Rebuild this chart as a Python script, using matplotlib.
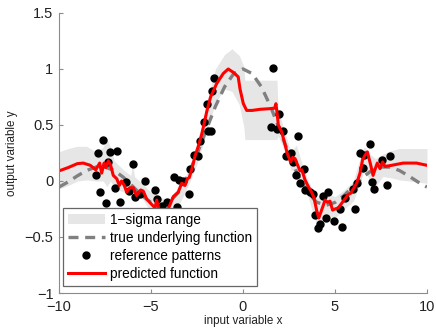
import matplotlib
matplotlib.use("Agg")
import matplotlib.pyplot as plt

plt.rcParams["font.family"] = ["Liberation Sans", "DejaVu Sans"]

# true underlying function
true_x = [-10, -9.5, -9, -8.5, -8, -7.5, -7, -6.5, -6, -5.5, -5, -4.5, -4, -3.5, -3,
          -2.5, -2, -1.5, -1, -0.5, 0, 0.5, 1, 1.5, 2, 2.5, 3, 3.5, 4, 4.5, 5, 5.5,
          6, 6.5, 7, 7.5, 8, 8.5, 9, 9.5, 10]
true_y = [-0.054, -0.008, 0.046, 0.094, 0.124, 0.125, 0.094, 0.033, -0.047, -0.128,
          -0.192, -0.217, -0.189, -0.100, 0.047, 0.239, 0.455, 0.665, 0.841, 0.959,
          1.0, 0.959, 0.841, 0.665, 0.455, 0.239, 0.047, -0.100, -0.189, -0.217,
          -0.192, -0.128, -0.047, 0.033, 0.094, 0.125, 0.124, 0.094, 0.046, -0.008,
          -0.054]

# reference patterns
pts_x = [-8.01, -7.86, -7.77, -7.59, -7.45, -7.32, -7.23, -6.96, -6.83, -6.68,
         -6.38, -6.22, -6.00, -5.87, -5.62, -5.31, -4.76, -4.67, -4.39, -4.12,
         -3.60, -3.75, -3.48, -3.24, -2.92, -2.88, -2.68, -2.46, -2.36, -2.12,
         -1.88, -1.72, -1.97, -1.70, -1.60,
         1.65, 1.96, 1.50, 1.83, 2.19, 3.01, 2.34, 2.59, 2.70, 2.90, 3.10, 3.30,
         3.37, 3.62, 3.82, 3.91, 4.09, 4.18, 4.36, 4.60, 4.49, 4.96, 5.27, 5.40,
         5.54, 5.96, 6.09, 6.18, 6.36, 6.60, 6.52, 6.90, 6.99, 7.14, 7.54, 7.81,
         7.99]
pts_y = [0.05, 0.25, -0.10, 0.37, -0.20, 0.17, 0.26, -0.06, 0.27, -0.19,
         -0.01, -0.09, 0.15, -0.14, -0.12, 0.00, -0.08, -0.16, -0.22, -0.19,
         -0.23, 0.04, 0.01, 0.00, -0.12, 0.11, 0.23, 0.22, 0.36, 0.53,
         0.45, 0.45, 0.69, 0.80, 0.92,
         1.01, 0.60, 0.48, 0.46, 0.45, 0.40, 0.22, 0.25, 0.17, 0.05, -0.02, 0.11,
         -0.08, -0.10, -0.12, -0.30, -0.42, -0.38, -0.13, -0.10, -0.33, -0.36,
         -0.25, -0.41, -0.15, -0.07, -0.25, -0.02, 0.25, 0.23, 0.12, 0.33, -0.01,
         -0.07, 0.19, -0.04, 0.22]

# predicted function
pred_x = [-10, -9.5, -9.0, -8.68, -8.3, -8.0, -7.79, -7.68, -7.55, -7.45, -7.32,
          -7.19, -7.05, -6.86, -6.72, -6.60, -6.45, -6.32, -6.15, -5.96, -5.78,
          -5.56, -5.42, -5.24, -4.96, -4.78, -4.69, -4.51, -4.3, -4.06, -3.79,
          -3.52, -3.33, -3.15, -3.02, -2.92, -2.79, -2.61, -2.43, -2.24, -2.10,
          -1.97, -1.76, -1.43, -1.07, -0.80, -0.53, -0.26, -0.16, 0.02, 0.20,
          0.5, 0.92, 1.4, 1.72, 1.79, 1.86, 1.92, 2.10, 2.28, 2.40, 2.59, 2.70,
          2.83, 2.95, 3.10, 3.20, 3.37, 3.55, 3.73, 3.86, 4.00, 4.12, 4.36, 4.46,
          4.60, 4.73, 4.87, 5.00, 5.18, 5.36, 5.54, 5.72, 5.85, 6.00, 6.18, 6.36,
          6.50, 6.63, 6.76, 6.96, 7.07, 7.17, 7.30, 7.45, 7.59, 7.72, 8.08, 8.71,
          9.43, 10]
pred_y = [0.09, 0.12, 0.155, 0.16, 0.14, 0.10, 0.16, 0.07, 0.16, 0.12, 0.18,
          0.14, 0.05, 0.02, -0.04, 0.0, -0.04, -0.10, -0.06, -0.06, -0.13,
          -0.08, -0.09, -0.16, -0.21, -0.24, -0.17, -0.29, -0.33, -0.25, -0.14,
          -0.10, -0.02, -0.04, 0.02, 0.03, 0.10, 0.22, 0.31, 0.42, 0.52,
          0.62, 0.75, 0.87, 0.96, 1.00, 0.97, 0.93, 0.82, 0.69, 0.63,
          0.63, 0.64, 0.645, 0.65, 0.69, 0.60, 0.50, 0.44, 0.33, 0.25, 0.17, 0.21,
          0.20, 0.15, 0.09, 0.10, 0.01, -0.05, -0.10, -0.15, -0.26, -0.33, -0.22,
          -0.17, -0.19, -0.18, -0.26, -0.25, -0.24, -0.20, -0.16, -0.12, -0.11,
          -0.07, -0.02, 0.07, 0.19, 0.23, 0.26, 0.13, 0.05, 0.10, 0.16, 0.11,
          0.17, 0.13, 0.14, 0.16, 0.16, 0.14]

# 1-sigma band
band_x = [-10, -9.5, -9, -8.5, -8, -7.6, -7.4, -7.2, -7, -6.5, -6.1, -6, -5.9,
          -5.5, -5, -4.5, -4, -3.5, -3, -2.5, -2, -1.5, -1, -0.6, -0.2, 0.05,
          0.1, 1.85, 1.9, 2.2, 2.6, 2.9, 3.2, 3.5, 4, 4.5, 5, 5.5, 6, 6.3, 6.6,
          6.9, 7.2, 7.6, 8, 8.5, 9, 9.5, 10]
band_hi = [0.26, 0.29, 0.31, 0.31, 0.26, 0.30, 0.38, 0.30, 0.18, 0.10, 0.05,
           0.16, 0.04, -0.02, -0.10, -0.15, -0.16, -0.05, 0.08, 0.27, 0.68,
           1.0, 1.13, 1.18, 1.12, 1.02, 0.90, 0.90, 0.64, 0.48, 0.26, 0.32,
           0.16, 0.02, -0.15, -0.10, -0.14, -0.08, 0.0, 0.17, 0.31, 0.24, 0.20,
           0.24, 0.27, 0.29, 0.29, 0.29, 0.29]
band_lo = [-0.07, -0.04, 0.0, 0.01, 0.0, 0.0, -0.05, 0.0, -0.06, -0.10, -0.12,
           -0.16, -0.12, -0.15, -0.28, -0.34, -0.38, -0.22, -0.05, 0.15, 0.42,
           0.70, 0.82, 0.80, 0.68, 0.48, 0.37, 0.37, 0.40, 0.30, 0.10, 0.08,
           -0.02, -0.12, -0.40, -0.30, -0.33, -0.25, -0.18, -0.05, 0.10, 0.0,
           -0.05, 0.04, 0.03, 0.01, 0.0, -0.01, -0.02]

fig = plt.figure(figsize=(4.36, 3.28), dpi=100)
ax = fig.add_axes([0.1353, 0.1067, 0.844, 0.8537])

ax.fill_between(band_x, band_lo, band_hi, color="#e6e6e6", lw=0,
                label="1\u2212sigma range")
ax.plot(true_x, true_y, "--", color="#808080", lw=2.4, dashes=(3, 2),
        label="true underlying function")
ax.plot(pts_x, pts_y, "o", color="black", ms=5, ls="none",
        label="reference patterns")
ax.plot(pred_x, pred_y, "-", color="#ff0000", lw=2.2, label="predicted function")

ax.set_xlim(-10, 10)
ax.set_ylim(-1, 1.5)
ax.set_xticks([-10, -5, 0, 5, 10])
ax.set_yticks([-1, -0.5, 0, 0.5, 1, 1.5])
ax.set_xticklabels(["\u221210", "\u22125", "0", "5", "10"])
ax.set_yticklabels(["\u22121", "\u22120.5", "0", "0.5", "1", "1.5"])
for s in ["top", "right"]:
    ax.spines[s].set_visible(False)
for s in ["left", "bottom"]:
    ax.spines[s].set_color("#8c8c8c")
ax.tick_params(direction="in", length=3, colors="#8c8c8c", labelcolor="#222222",
               labelsize=10.5)
ax.tick_params(axis="x", pad=5)
ax.tick_params(axis="y", pad=4)
ax.set_xlabel("input variable x", fontsize=8.4, color="#222222", labelpad=1)
ax.set_ylabel("output variable y", fontsize=8.4, color="#222222", labelpad=5)

leg = ax.legend(loc="lower left", bbox_to_anchor=(0.011, 0.025), borderaxespad=0,
                fontsize=9.8, handlelength=2.7, handletextpad=0.4,
                labelspacing=0.3, borderpad=0.35, fancybox=False, framealpha=1)
leg.get_frame().set_edgecolor("#666666")
leg.get_frame().set_linewidth(0.9)

fig.savefig("out.png", dpi=100)
